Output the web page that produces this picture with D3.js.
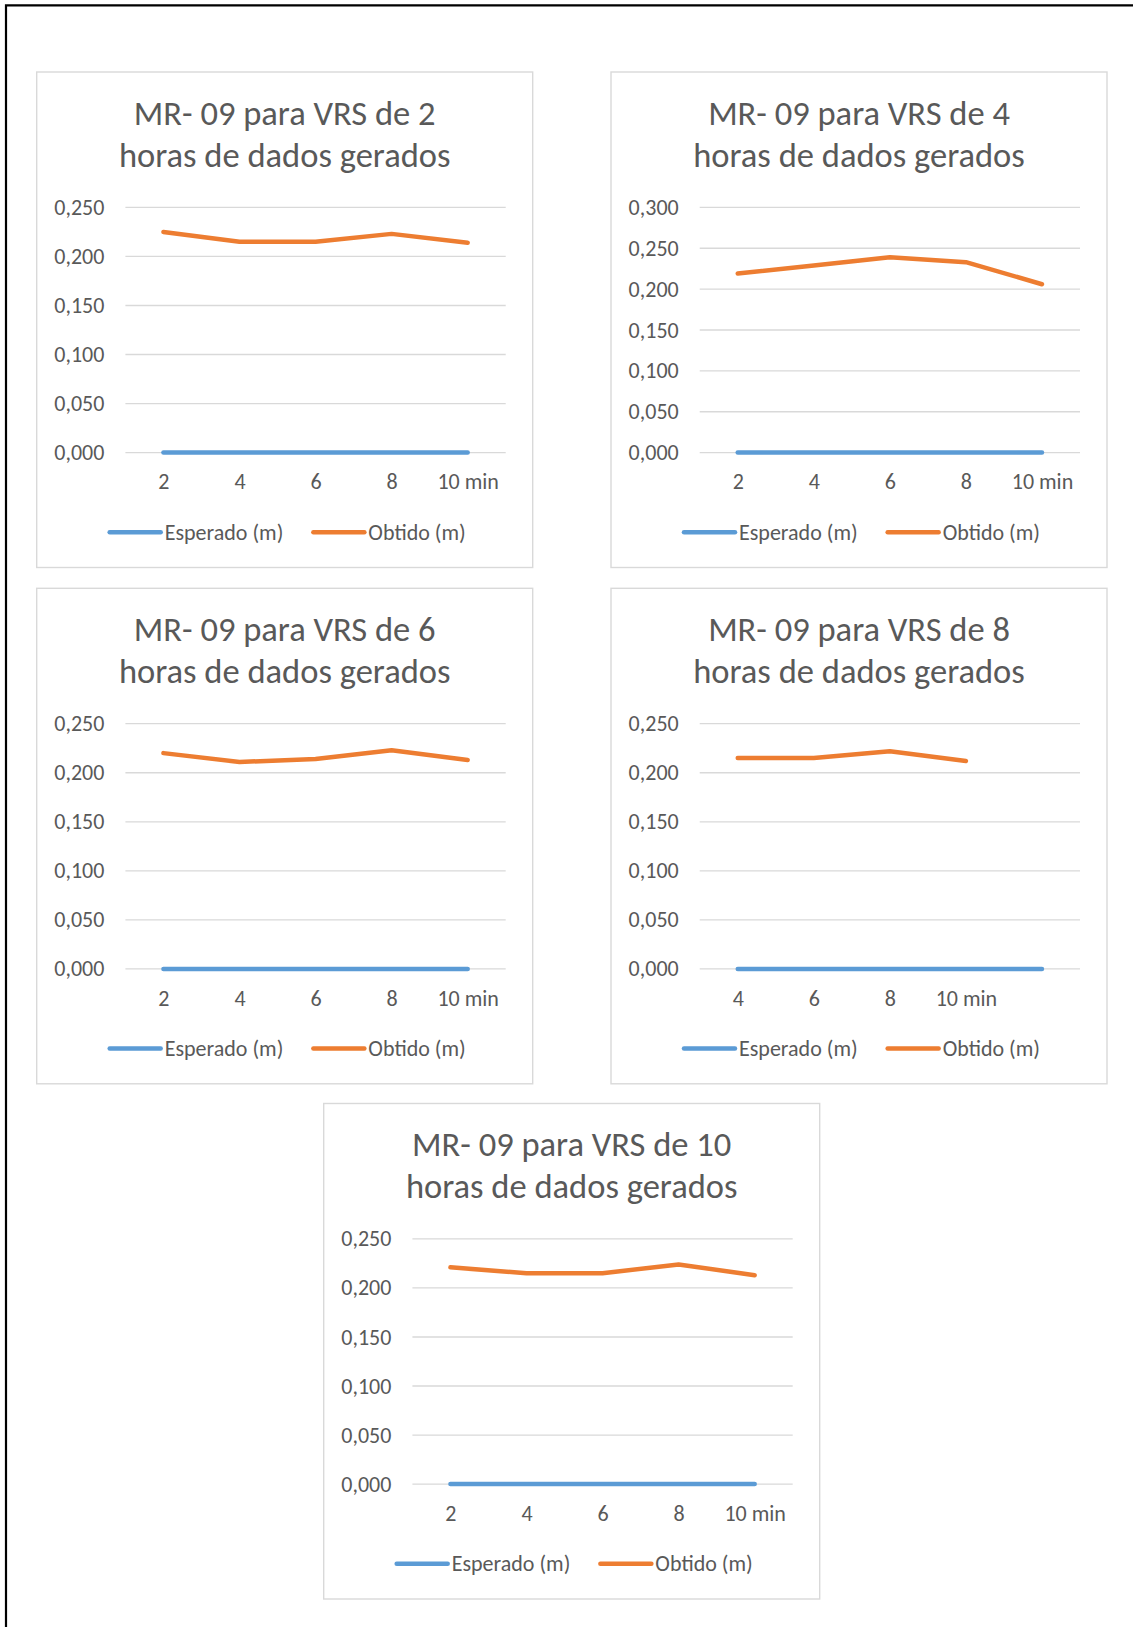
<!DOCTYPE html>
<html><head><meta charset="utf-8">
<script src="https://cdn.jsdelivr.net/npm/d3@7"></script>
<style>
html,body{margin:0;padding:0;background:#fff;}
svg{display:block;}
text{font-family: Carlito, Lato, sans-serif; fill:#595959;}
</style></head><body>
<svg id="chart" width="1133" height="1627"></svg>
<script>
// Intervalos de coleta (min) no eixo x
const minutos = ["2", "4", "6", "8", "10 min"];
const minutos8h = ["4", "6", "8", "10 min", ""];
// Duração dos dados gerados para cada VRS (horas)
const horas = ["2", "4", "6", "8", "10"];
// Séries: valor esperado e valor obtido (m)
const esperado = [0, 0, 0, 0, 0];
const obtido2h = [0.225, 0.215, 0.215, 0.223, 0.214];
const obtido4h = [0.219, 0.229, 0.239, 0.233, 0.206];
const obtido6h = [0.220, 0.211, 0.214, 0.223, 0.213];
const obtido8h = [0.215, 0.215, 0.222, 0.212];
const obtido10h = [0.221, 0.215, 0.215, 0.224, 0.213];
// Máximo do eixo y de cada gráfico
const yMaximo = [0.25, 0.30, 0.25, 0.25, 0.25];
const legendas = ["Esperado (m)", "Obtido (m)"];
const cores = ["#5B9BD5", "#ED7D31"];

const categorias = [minutos, minutos, minutos, minutos8h, minutos];
const obtidos = [obtido2h, obtido4h, obtido6h, obtido8h, obtido10h];

const svg = d3.select("#chart");
const br = d3.formatLocale({decimal: ",", thousands: ".", grouping: [3], currency: ["R$", ""]});
const fmt = br.format(".3f");

// moldura da página
svg.append("path")
  .attr("d", "M6,1627V5.3H1133")
  .attr("fill", "none").attr("stroke", "#000").attr("stroke-width", 2.2);

const caixas = [
  {x: 36.7, y: 72}, {x: 611, y: 72},
  {x: 36.7, y: 588.3}, {x: 611, y: 588.3},
  {x: 323.7, y: 1103.5}
];
const W = 496, H = 495.5;
const fonteEixo = "22px";

caixas.forEach((c, i) => {
  const g = svg.append("g").attr("transform", `translate(${c.x},${c.y})`);
  g.append("rect").attr("x", 0).attr("y", 0).attr("width", W).attr("height", H)
    .attr("fill", "#fff").attr("stroke", "#D9D9D9").attr("stroke-width", 1.4);

  // título
  const t = g.append("text").attr("text-anchor", "middle").style("font-size", "34.5px");
  t.append("tspan").attr("x", W / 2).attr("y", 52.7).text(`MR- 09 para VRS de ${horas[i]}`);
  t.append("tspan").attr("x", W / 2).attr("y", 94.5).text("horas de dados gerados");

  const left = 88.7, right = W - 27, top = 135.4, bottom = 380.6;
  const cats = categorias[i];
  const x = d3.scalePoint().domain(d3.range(cats.length)).range([left, right]).padding(0.5);
  const y = d3.scaleLinear().domain([0, yMaximo[i]]).range([bottom, top]);
  const ticks = d3.range(0, yMaximo[i] + 1e-9, 0.05);

  // linhas de grade
  g.append("g").selectAll("line").data(ticks).join("line")
    .attr("x1", left).attr("x2", right)
    .attr("y1", d => y(d)).attr("y2", d => y(d))
    .attr("stroke", "#D9D9D9").attr("stroke-width", 1.3);

  const ay = g.append("g").attr("transform", `translate(${left},0)`)
    .call(d3.axisLeft(y).tickValues(ticks).tickFormat(fmt).tickSize(0).tickPadding(21));
  ay.select(".domain").remove();
  ay.selectAll("text").style("font-size", fonteEixo).style("font-family", null).attr("fill", "#595959");

  const ax = g.append("g").attr("transform", `translate(0,${bottom})`)
    .call(d3.axisBottom(x).tickFormat(k => cats[k]).tickSize(0).tickPadding(21));
  ax.select(".domain").remove();
  ax.selectAll("text").style("font-size", fonteEixo).style("font-family", null).attr("fill", "#595959");

  const linha = d3.line().x((d, k) => x(k)).y(d => y(d));
  const series = [esperado, obtidos[i]];
  series.forEach((s, k) => {
    g.append("path").datum(s).attr("d", linha)
      .attr("fill", "none").attr("stroke", cores[k]).attr("stroke-width", 4.5)
      .attr("stroke-linecap", "round").attr("stroke-linejoin", "round");
  });

  // legenda
  const lg = g.append("g");
  let pos = 0;
  legendas.forEach((nome, k) => {
    const it = lg.append("g");
    it.append("line").attr("x1", pos).attr("x2", pos + 51).attr("y1", 460.2).attr("y2", 460.2)
      .attr("stroke", cores[k]).attr("stroke-width", 4.5).attr("stroke-linecap", "round");
    const tx = it.append("text").attr("x", pos + 55).attr("y", 467.5).style("font-size", fonteEixo).text(nome);
    pos += 55 + tx.node().getComputedTextLength() + 30;
  });
  const total = pos - 30;
  lg.attr("transform", `translate(${W / 2 - total / 2 + 3},0)`);
});
</script>
</body></html>
